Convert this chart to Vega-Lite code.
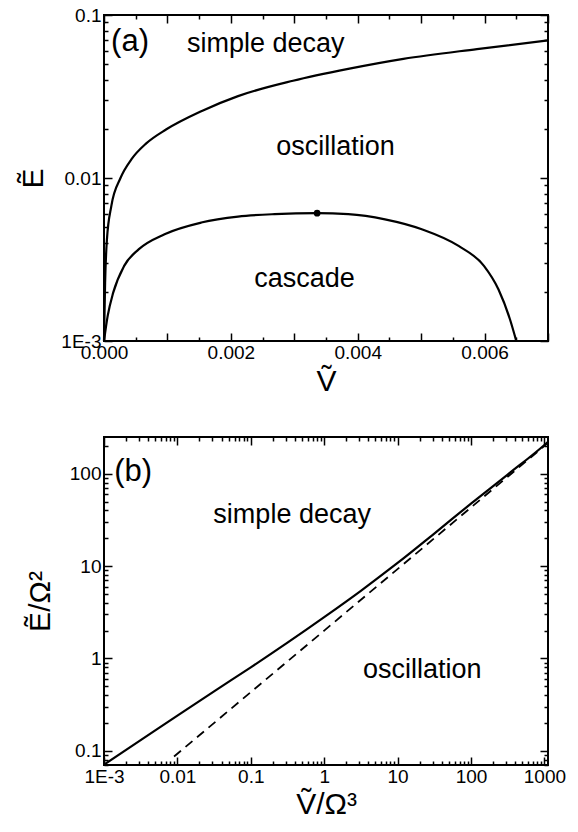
{
  "$schema": "https://vega.github.io/schema/vega-lite/v6.json",
  "background": "white",
  "padding": {"left": 17, "top": 5, "right": 0, "bottom": 0},
  "spacing": 96,
  "bounds": "flush",
  "config": {
    "view": {"stroke": "black", "strokeWidth": 2},
    "axis": {"domain": false, "grid": false, "tickColor": "black", "tickWidth": 1.5, "labelColor": "black", "labelFont": "Liberation Sans", "labelFontSize": 19, "titleFont": "Liberation Sans", "titleFontWeight": "normal", "titleColor": "black", "labelFlush": false, "labelOverlap": false},
    "text": {"font": "Liberation Sans", "color": "black"}
  },
  "datasets": {
    "upper": [
      {"v": 0, "e": 0.001}, {"v": 0.0000174, "e": 0.00228}, {"v": 0.0000463, "e": 0.0042}, {"v": 0.000116, "e": 0.00675},
      {"v": 0.00026, "e": 0.01}, {"v": 0.000434, "e": 0.01305}, {"v": 0.000666, "e": 0.0163}, {"v": 0.000984, "e": 0.0199},
      {"v": 0.001534, "e": 0.0257}, {"v": 0.002113, "e": 0.0318}, {"v": 0.00298, "e": 0.0395}, {"v": 0.00385, "e": 0.0467},
      {"v": 0.00472, "e": 0.0538}, {"v": 0.00588, "e": 0.0618}, {"v": 0.007, "e": 0.0698}
    ],
    "lower": [
      {"v": 0, "e": 0.001}, {"v": 0.000058, "e": 0.001425}, {"v": 0.000145, "e": 0.00198}, {"v": 0.000318, "e": 0.00289},
      {"v": 0.00055, "e": 0.00366}, {"v": 0.000955, "e": 0.00452}, {"v": 0.001534, "e": 0.00533}, {"v": 0.002113, "e": 0.0058},
      {"v": 0.00269, "e": 0.006}, {"v": 0.00336, "e": 0.00608}, {"v": 0.00385, "e": 0.006}, {"v": 0.00443, "e": 0.00558},
      {"v": 0.00501, "e": 0.00485}, {"v": 0.00559, "e": 0.00383}, {"v": 0.00599, "e": 0.00289}, {"v": 0.00622, "e": 0.00207},
      {"v": 0.0064, "e": 0.00136}, {"v": 0.0065, "e": 0.001}
    ],
    "dot": [{"v": 0.00336, "e": 0.00608}],
    "labels_a": [
      {"v": 0.00255, "e": 0.0664, "t": "simple decay"},
      {"v": 0.00365, "e": 0.0154, "t": "oscillation"},
      {"v": 0.00316, "e": 0.00239, "t": "cascade"}
    ],
    "tag_a": [{"v": 0.00041, "e": 0.068, "t": "(a)"}],
    "solid": [
      {"r": 0.001, "q": 0.0706}, {"r": 0.00316, "q": 0.13}, {"r": 0.01, "q": 0.24}, {"r": 0.0316, "q": 0.44},
      {"r": 0.1, "q": 0.8}, {"r": 0.316, "q": 1.48}, {"r": 1, "q": 2.8}, {"r": 3.16, "q": 5.4},
      {"r": 10, "q": 10.8}, {"r": 31.6, "q": 22.5}, {"r": 100, "q": 47.5}, {"r": 316, "q": 98},
      {"r": 1000, "q": 205}, {"r": 1120, "q": 222}
    ],
    "dashed": [{"r": 0.009, "q": 0.0865}, {"r": 1, "q": 2.0}, {"r": 1120, "q": 215.7}],
    "labels_b": [
      {"r": 0.366, "q": 35.4, "t": "simple decay"},
      {"r": 21.7, "q": 0.75, "t": "oscillation"}
    ],
    "tag_b": [{"r": 0.0025, "q": 104, "t": "(b)"}]
  },
  "vconcat": [
    {
      "width": 444,
      "height": 326,
      "resolve": {"axis": {"x": "independent", "y": "independent"}},
      "layer": [
        {
          "data": {"name": "upper"},
          "mark": {"type": "line", "color": "black", "strokeWidth": 2.2, "interpolate": "monotone"},
          "encoding": {
            "x": {"field": "v", "type": "quantitative", "scale": {"domain": [0, 0.007], "nice": false, "zero": false},
              "axis": {"orient": "bottom", "values": [0, 0.002, 0.004, 0.006], "format": ".3f", "ticks": false, "labelPadding": 2, "title": "V\u0303", "titleFontSize": 30, "titlePadding": 4}},
            "y": {"field": "e", "type": "quantitative", "scale": {"type": "log", "domain": [0.001, 0.1], "nice": false},
              "axis": {"orient": "left", "values": [0.001, 0.01, 0.1], "ticks": false, "labelPadding": 3, "labelExpr": "datum.value < 0.005 ? '1E-3' : format(datum.value, '~g')", "title": "E\u0303", "titleFontSize": 30, "titlePadding": 12}}
          }
        },
        {
          "data": {"name": "lower"},
          "mark": {"type": "line", "color": "black", "strokeWidth": 2.2, "interpolate": "monotone"},
          "encoding": {
            "x": {"field": "v", "type": "quantitative", "axis": {"orient": "bottom", "values": [0, 0.001, 0.002, 0.003, 0.004, 0.005, 0.006, 0.007], "tickSize": 8, "offset": -8, "labels": false, "title": null}},
            "y": {"field": "e", "type": "quantitative", "axis": {"orient": "left", "values": [0.001, 0.01, 0.1], "tickSize": 8, "offset": -8, "labels": false, "title": null}}
          }
        },
        {
          "data": {"name": "dot"},
          "mark": {"type": "circle", "color": "black", "opacity": 1, "size": 45},
          "encoding": {
            "x": {"field": "v", "type": "quantitative", "axis": {"orient": "bottom", "values": [0.0005, 0.0015, 0.0025, 0.0035, 0.0045, 0.0055, 0.0065], "tickSize": 4, "offset": -4, "labels": false, "title": null}},
            "y": {"field": "e", "type": "quantitative", "axis": {"orient": "left", "values": [0.002, 0.003, 0.004, 0.005, 0.006, 0.007, 0.008, 0.009, 0.02, 0.03, 0.04, 0.05, 0.06, 0.07, 0.08, 0.09], "tickSize": 4, "offset": -4, "labels": false, "title": null}}
          }
        },
        {
          "data": {"name": "labels_a"},
          "mark": {"type": "text", "fontSize": 27, "align": "center", "baseline": "middle"},
          "encoding": {
            "x": {"field": "v", "type": "quantitative", "axis": {"orient": "top", "values": [0, 0.001, 0.002, 0.003, 0.004, 0.005, 0.006, 0.007], "tickSize": 8, "offset": -8, "labels": false, "title": null}},
            "y": {"field": "e", "type": "quantitative", "axis": {"orient": "right", "values": [0.001, 0.01, 0.1], "tickSize": 8, "offset": -8, "labels": false, "title": null}},
            "text": {"field": "t"}
          }
        },
        {
          "data": {"name": "tag_a"},
          "mark": {"type": "text", "fontSize": 31, "align": "center", "baseline": "middle"},
          "encoding": {
            "x": {"field": "v", "type": "quantitative", "axis": {"orient": "top", "values": [0.0005, 0.0015, 0.0025, 0.0035, 0.0045, 0.0055, 0.0065], "tickSize": 4, "offset": -4, "labels": false, "title": null}},
            "y": {"field": "e", "type": "quantitative", "axis": {"orient": "right", "values": [0.002, 0.003, 0.004, 0.005, 0.006, 0.007, 0.008, 0.009, 0.02, 0.03, 0.04, 0.05, 0.06, 0.07, 0.08, 0.09], "tickSize": 4, "offset": -4, "labels": false, "title": null}},
            "text": {"field": "t"}
          }
        }
      ]
    },
    {
      "width": 444,
      "height": 328,
      "resolve": {"axis": {"x": "independent", "y": "independent"}},
      "layer": [
        {
          "data": {"name": "solid"},
          "mark": {"type": "line", "color": "black", "strokeWidth": 2.2, "interpolate": "monotone"},
          "encoding": {
            "x": {"field": "r", "type": "quantitative", "scale": {"type": "log", "domain": [0.001, 1120], "nice": false},
              "axis": {"orient": "bottom", "values": [0.001, 0.01, 0.1, 1, 10, 100, 1000], "ticks": false, "labelPadding": 2, "labelExpr": "datum.value < 0.005 ? '1E-3' : format(datum.value, '~g')", "title": "V\u0303/\u03a9\u00b3", "titleFontSize": 30, "titlePadding": 3}},
            "y": {"field": "q", "type": "quantitative", "scale": {"type": "log", "domain": [0.07, 250], "nice": false},
              "axis": {"orient": "left", "values": [0.1, 1, 10, 100], "ticks": false, "labelPadding": 3, "labelExpr": "format(datum.value, '~g')", "title": "E\u0303/\u03a9\u00b2", "titleFontSize": 30, "titlePadding": 14}}
          }
        },
        {
          "data": {"name": "dashed"},
          "mark": {"type": "line", "color": "black", "strokeWidth": 1.8, "strokeDash": [9, 6]},
          "encoding": {
            "x": {"field": "r", "type": "quantitative", "axis": {"orient": "bottom", "values": [0.001, 0.01, 0.1, 1, 10, 100, 1000], "tickSize": 8, "offset": -8, "labels": false, "title": null}},
            "y": {"field": "q", "type": "quantitative", "axis": {"orient": "left", "values": [0.1, 1, 10, 100], "tickSize": 8, "offset": -8, "labels": false, "title": null}}
          }
        },
        {
          "data": {"name": "labels_b"},
          "transform": [{"filter": "datum.t == 'simple decay'"}],
          "mark": {"type": "text", "fontSize": 27, "align": "center", "baseline": "middle"},
          "encoding": {
            "x": {"field": "r", "type": "quantitative", "axis": {"orient": "bottom", "values": [0.002, 0.003, 0.004, 0.005, 0.006, 0.007, 0.008, 0.009, 0.02, 0.03, 0.04, 0.05, 0.06, 0.07, 0.08, 0.09, 0.2, 0.3, 0.4, 0.5, 0.6, 0.7, 0.8, 0.9, 2, 3, 4, 5, 6, 7, 8, 9, 20, 30, 40, 50, 60, 70, 80, 90, 200, 300, 400, 500, 600, 700, 800, 900], "tickSize": 4, "offset": -4, "labels": false, "title": null}},
            "y": {"field": "q", "type": "quantitative", "axis": {"orient": "left", "values": [0.07, 0.08, 0.09, 0.2, 0.3, 0.4, 0.5, 0.6, 0.7, 0.8, 0.9, 2, 3, 4, 5, 6, 7, 8, 9, 20, 30, 40, 50, 60, 70, 80, 90, 200], "tickSize": 4, "offset": -4, "labels": false, "title": null}},
            "text": {"field": "t"}
          }
        },
        {
          "data": {"name": "labels_b"},
          "transform": [{"filter": "datum.t == 'oscillation'"}],
          "mark": {"type": "text", "fontSize": 27, "align": "center", "baseline": "middle"},
          "encoding": {
            "x": {"field": "r", "type": "quantitative", "axis": {"orient": "top", "values": [0.001, 0.01, 0.1, 1, 10, 100, 1000], "tickSize": 8, "offset": -8, "labels": false, "title": null}},
            "y": {"field": "q", "type": "quantitative", "axis": {"orient": "right", "values": [0.1, 1, 10, 100], "tickSize": 8, "offset": -8, "labels": false, "title": null}},
            "text": {"field": "t"}
          }
        },
        {
          "data": {"name": "tag_b"},
          "mark": {"type": "text", "fontSize": 31, "align": "center", "baseline": "middle"},
          "encoding": {
            "x": {"field": "r", "type": "quantitative", "axis": {"orient": "top", "values": [0.002, 0.003, 0.004, 0.005, 0.006, 0.007, 0.008, 0.009, 0.02, 0.03, 0.04, 0.05, 0.06, 0.07, 0.08, 0.09, 0.2, 0.3, 0.4, 0.5, 0.6, 0.7, 0.8, 0.9, 2, 3, 4, 5, 6, 7, 8, 9, 20, 30, 40, 50, 60, 70, 80, 90, 200, 300, 400, 500, 600, 700, 800, 900], "tickSize": 4, "offset": -4, "labels": false, "title": null}},
            "y": {"field": "q", "type": "quantitative", "axis": {"orient": "right", "values": [0.07, 0.08, 0.09, 0.2, 0.3, 0.4, 0.5, 0.6, 0.7, 0.8, 0.9, 2, 3, 4, 5, 6, 7, 8, 9, 20, 30, 40, 50, 60, 70, 80, 90, 200], "tickSize": 4, "offset": -4, "labels": false, "title": null}},
            "text": {"field": "t"}
          }
        }
      ]
    }
  ]
}
